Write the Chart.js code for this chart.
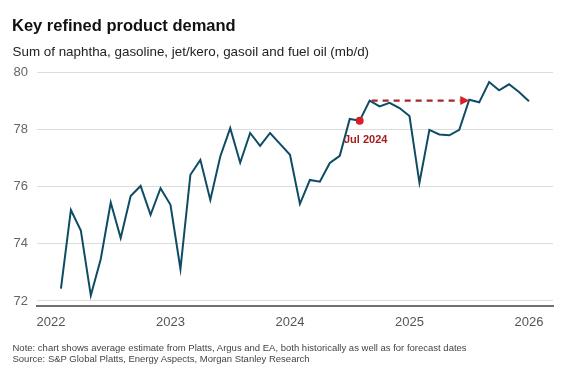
<!DOCTYPE html>
<html>
<head>
<meta charset="utf-8">
<script src="https://cdn.jsdelivr.net/npm/chart.js@4.4.1/dist/chart.umd.min.js"></script>
<style>
html,body{margin:0;padding:0;background:#fff;}
#wrap{position:relative;width:569px;height:381px;overflow:hidden;font-family:"Liberation Sans",Arial,sans-serif;}
canvas{position:absolute;left:0;top:0;}
.t{position:absolute;white-space:nowrap;}
#title{left:12px;top:16.7px;font-size:16.5px;line-height:16.5px;font-weight:bold;color:#111;}
#sub{left:12.5px;top:45.2px;font-size:13.4px;line-height:13.4px;color:#222;}
#note{left:12.5px;top:343.3px;font-size:9.5px;line-height:9.5px;color:#444;}
#src{left:12.5px;top:353.5px;font-size:9.5px;line-height:9.5px;color:#444;}
</style>
</head>
<body>
<div id="wrap">
<canvas id="c" width="569" height="381"></canvas>
<div class="t" id="title">Key refined product demand</div>
<div class="t" id="sub">Sum of naphtha, gasoline, jet/kero, gasoil and fuel oil (mb/d)</div>
<div class="t" id="note">Note: chart shows average estimate from Platts, Argus and EA, both historically as well as for forecast dates</div>
<div class="t" id="src">Source: S&amp;P Global Platts, Energy Aspects, Morgan Stanley Research</div>
</div>
<script>
const months = [
  '2022-01','2022-02','2022-03','2022-04','2022-05','2022-06','2022-07','2022-08','2022-09','2022-10','2022-11','2022-12',
  '2023-01','2023-02','2023-03','2023-04','2023-05','2023-06','2023-07','2023-08','2023-09','2023-10','2023-11','2023-12',
  '2024-01','2024-02','2024-03','2024-04','2024-05','2024-06','2024-07','2024-08','2024-09','2024-10','2024-11','2024-12',
  '2025-01','2025-02','2025-03','2025-04','2025-05','2025-06','2025-07','2025-08','2025-09','2025-10','2025-11','2025-12'
];
const demand = [
  72.43, 75.18, 74.46, 72.19, 73.47, 75.44, 74.20, 75.67, 76.02, 75.01, 75.94, 75.36,
  73.12, 76.41, 76.93, 75.53, 77.05, 78.04, 76.83, 77.87, 77.42, 77.87, 77.49, 77.11,
  75.39, 76.23, 76.17, 76.82, 77.07, 78.36, 78.30, 79.00, 78.80, 78.92, 78.74, 78.46,
  76.13, 77.98, 77.82, 77.79, 77.98, 79.03, 78.94, 79.65, 79.36, 79.57, 79.30, 78.98
];
const yTicks = [72, 74, 76, 78, 80];
const xTicks = [2022, 2023, 2024, 2025, 2026];
const highlightMonth = '2024-07';
const highlightLabel = 'Jul 2024';
const arrowFrom = '2024-08';
const arrowTo = '2025-06';

// month-end position on a year axis
function toX(m){ const p = m.split('-'); return Number(p[0]) + Number(p[1]) / 12; }

Chart.defaults.font.family = '"Liberation Sans", Arial, sans-serif';

const annot = {
  id: 'annot',
  afterDatasetsDraw(chart){
    const ctx = chart.ctx, xs = chart.scales.x, ys = chart.scales.y;
    const i0 = months.indexOf(arrowFrom);
    const x0 = xs.getPixelForValue(toX(arrowFrom));
    const x1 = xs.getPixelForValue(toX(arrowTo));
    const yy = ys.getPixelForValue(demand[i0]);
    ctx.save();
    ctx.strokeStyle = '#a3282b';
    ctx.lineWidth = 2.3;
    ctx.setLineDash([6, 5]);
    ctx.beginPath();
    ctx.moveTo(x0 + 2, yy);
    ctx.lineTo(x1 - 9, yy);
    ctx.stroke();
    ctx.setLineDash([]);
    ctx.fillStyle = '#d42027';
    ctx.beginPath();
    ctx.moveTo(x1, yy);
    ctx.lineTo(x1 - 9, yy - 4.5);
    ctx.lineTo(x1 - 9, yy + 4.5);
    ctx.closePath();
    ctx.fill();
    const hi = months.indexOf(highlightMonth);
    const hx = xs.getPixelForValue(toX(highlightMonth));
    const hy = ys.getPixelForValue(demand[hi]);
    ctx.font = 'bold 11px "Liberation Sans", Arial, sans-serif';
    ctx.fillStyle = '#a51d1d';
    ctx.textAlign = 'center';
    ctx.textBaseline = 'alphabetic';
    ctx.fillText(highlightLabel, hx + 6, hy + 22);
    ctx.restore();
  }
};

new Chart(document.getElementById('c'), {
  type: 'line',
  data: {
    datasets: [
      {
        data: [{x: toX(highlightMonth), y: demand[months.indexOf(highlightMonth)]}],
        showLine: false,
        pointRadius: 4,
        pointBackgroundColor: '#d4202a',
        pointBorderWidth: 0
      },
      {
        data: months.map((m, i) => ({x: toX(m), y: demand[i]})),
        borderColor: '#0f4c64',
        borderWidth: 2,
        pointRadius: 0,
        tension: 0,
        fill: false
      }
    ]
  },
  options: {
    responsive: false,
    animation: false,
    events: [],
    layout: {padding: {left: 0, right: 16, top: 72, bottom: 0}},
    plugins: {legend: {display: false}, tooltip: {enabled: false}, title: {display: false}},
    scales: {
      x: {
        type: 'linear',
        min: 2021.883,
        max: 2026.201,
        afterBuildTicks: s => { s.ticks = xTicks.map(v => ({value: v})); },
        afterFit: s => { s.height = 75; },
        grid: {display: false, drawTicks: false},
        border: {display: true, color: '#707070', width: 2},
        ticks: {padding: 9, color: '#555', font: {size: 13}, maxRotation: 0, autoSkip: false, callback: v => String(v)}
      },
      y: {
        min: 71.825,
        max: 80,
        afterBuildTicks: s => { s.ticks = yTicks.map(v => ({value: v})); },
        afterFit: s => { s.width = 37; },
        grid: {color: '#dcdcdc', lineWidth: 1, drawTicks: false},
        border: {display: false},
        ticks: {padding: 9, color: '#666', font: {size: 13}}
      }
    }
  },
  plugins: [annot]
});
</script>
</body>
</html>
